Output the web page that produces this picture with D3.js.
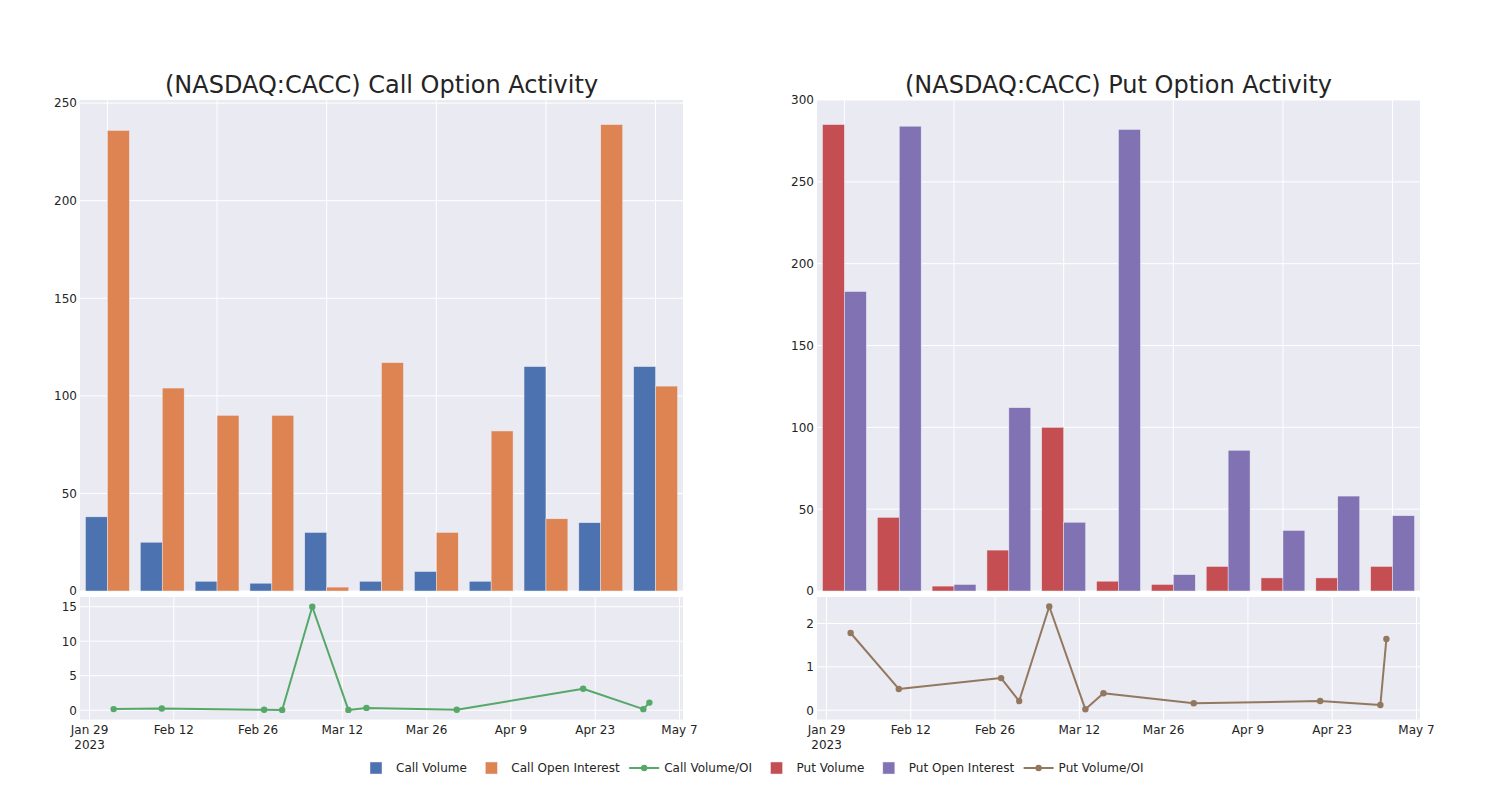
<!DOCTYPE html>
<html>
<head>
<meta charset="utf-8">
<script src="https://cdn.jsdelivr.net/npm/d3@7"></script>
<style>
  html, body { margin: 0; padding: 0; background: #fff; }
  svg { display: block; font-family: "DejaVu Sans", sans-serif; }
</style>
</head>
<body>
<svg id="chart" width="1500" height="800"></svg>
<script>
// ---- data ----
const dates = ["2023-02-02","2023-02-10","2023-02-27","2023-03-02","2023-03-07","2023-03-13","2023-03-16","2023-03-31","2023-04-21","2023-05-01","2023-05-02"];
const callVolume = [38, 25, 5, 4, 30, 5, 10, 5, 115, 35, 115];
const callOpenInterest = [236, 104, 90, 90, 2, 117, 30, 82, 37, 239, 105];
const callVolumeOI = [0.16, 0.24, 0.06, 0.04, 15, 0.04, 0.33, 0.06, 3.11, 0.15, 1.1];
const putVolume = [285, 45, 3, 25, 100, 6, 4, 15, 8, 8, 15];
const putOpenInterest = [183, 284, 4, 112, 42, 282, 10, 86, 37, 58, 46];
const putVolumeOI = [1.78, 0.49, 0.74, 0.21, 2.39, 0.02, 0.39, 0.16, 0.21, 0.12, 1.64];
const callBarTicks = [0, 50, 100, 150, 200, 250];
const putBarTicks = [0, 50, 100, 150, 200, 250, 300];
const callLineTicks = [0, 5, 10, 15];
const putLineTicks = [0, 1, 2];
const legendLabels = ["Call Volume", "Call Open Interest", "Call Volume/OI", "Put Volume", "Put Open Interest", "Put Volume/OI"];

const COLORS = {
  callVol: "rgb(76,114,176)", callOI: "rgb(221,132,82)", callLine: "rgb(85,168,104)",
  putVol: "rgb(196,78,82)", putOI: "rgb(129,114,179)", putLine: "rgb(147,120,96)"
};
const BG = "rgb(234,234,242)";
const TXT = "rgb(36,36,36)";

const parse = d3.timeParse("%Y-%m-%d");
const dateObjs = dates.map(parse);
const svg = d3.select("#chart");

const barTop = 100, barBottom = 591, lineTop = 597, lineBottom = 719.5;

function panel(o) {
  const g = svg.append("g");
  // title
  g.append("text").attr("x", (o.x0 + o.x1) / 2).attr("y", 93)
    .attr("text-anchor", "middle").attr("font-size", 24).attr("fill", TXT).text(o.title);

  // ---- bar chart ----
  const idx = d3.range(dates.length);
  const xb = d3.scaleBand().domain(idx).range([o.x0, o.x1]).paddingInner(0.2).paddingOuter(0.1);
  const xsub = d3.scaleBand().domain([0, 1]).range([0, xb.bandwidth()]);
  const yb = d3.scaleLinear().domain([0, o.barMax]).range([barBottom, barTop]);

  g.append("rect").attr("x", o.x0).attr("y", barTop).attr("width", o.x1 - o.x0)
    .attr("height", barBottom - barTop).attr("fill", BG);
  // grid
  g.append("g").selectAll("line").data(o.barTicks).join("line")
    .attr("x1", o.x0).attr("x2", o.x1).attr("y1", d => yb(d)).attr("y2", d => yb(d))
    .attr("stroke", "#fff").attr("stroke-width", 1);
  g.append("g").selectAll("line").data(idx.filter(i => i % 2 === 0)).join("line")
    .attr("x1", i => xb(i) + xb.bandwidth() / 2).attr("x2", i => xb(i) + xb.bandwidth() / 2)
    .attr("y1", barTop).attr("y2", barBottom).attr("stroke", "#fff").attr("stroke-width", 1);

  const series = [{ vals: o.vol, color: o.c1 }, { vals: o.oi, color: o.c2 }];
  series.forEach((s, si) => {
    g.append("g").selectAll("rect").data(s.vals).join("rect")
      .attr("x", (d, i) => xb(i) + xsub(si))
      .attr("width", xsub.bandwidth())
      .attr("y", d => yb(d))
      .attr("height", d => barBottom - yb(d))
      .attr("fill", s.color).attr("stroke", BG).attr("stroke-width", 0.5);
  });

  const yAxisB = d3.axisLeft(yb).tickValues(o.barTicks).tickSize(0).tickPadding(3).tickFormat(d3.format("d"));
  const ya = g.append("g").attr("transform", `translate(${o.x0},0)`).call(yAxisB);
  ya.select(".domain").remove();
  ya.selectAll("text").attr("font-size", 12).attr("fill", TXT).attr("font-family", "DejaVu Sans");

  // ---- line chart ----
  const xl = d3.scaleTime().domain([new Date(2023, 0, 27, 10), new Date(2023, 4, 7, 14)]).range([o.x0, o.x1]);
  const yl = d3.scaleLinear().domain(o.lineDomain).range([lineBottom, lineTop]);
  const dateTicks = d3.range(0, 99, 14).map(d => d3.timeDay.offset(new Date(2023, 0, 29), d));

  g.append("rect").attr("x", o.x0).attr("y", lineTop).attr("width", o.x1 - o.x0)
    .attr("height", lineBottom - lineTop).attr("fill", BG);
  g.append("g").selectAll("line").data(o.lineTicks).join("line")
    .attr("x1", o.x0).attr("x2", o.x1).attr("y1", d => yl(d)).attr("y2", d => yl(d))
    .attr("stroke", "#fff").attr("stroke-width", 1);
  g.append("g").selectAll("line").data(dateTicks).join("line")
    .attr("x1", d => xl(d)).attr("x2", d => xl(d))
    .attr("y1", lineTop).attr("y2", lineBottom).attr("stroke", "#fff").attr("stroke-width", 1);

  const line = d3.line().x((d, i) => xl(dateObjs[i])).y(d => yl(d));
  g.append("path").datum(o.ratio).attr("d", line).attr("fill", "none")
    .attr("stroke", o.c3).attr("stroke-width", 2).attr("stroke-linejoin", "round");
  g.append("g").selectAll("circle").data(o.ratio).join("circle")
    .attr("cx", (d, i) => xl(dateObjs[i])).attr("cy", d => yl(d)).attr("r", 3.2)
    .attr("fill", o.c3);

  const yAxisL = d3.axisLeft(yl).tickValues(o.lineTicks).tickSize(0).tickPadding(3).tickFormat(d3.format("d"));
  const yla = g.append("g").attr("transform", `translate(${o.x0},0)`).call(yAxisL);
  yla.select(".domain").remove();
  yla.selectAll("text").attr("font-size", 12).attr("fill", TXT).attr("font-family", "DejaVu Sans");

  const fmt = d3.timeFormat("%b %-d");
  const xAxisL = d3.axisBottom(xl).tickValues(dateTicks).tickSize(0).tickPadding(0).tickFormat(() => "");
  const xla = g.append("g").attr("transform", `translate(0,${lineBottom})`).call(xAxisL);
  xla.select(".domain").remove();
  const tl = g.append("g");
  tl.selectAll("text").data(dateTicks).join("text")
    .attr("x", d => xl(d)).attr("y", 733.5).attr("text-anchor", "middle")
    .attr("font-size", 12).attr("fill", TXT).text(d => fmt(d));
  tl.append("text").attr("x", xl(dateTicks[0])).attr("y", 748.5).attr("text-anchor", "middle")
    .attr("font-size", 12).attr("fill", TXT).text("2023");
}

panel({
  x0: 80, x1: 683, title: "(NASDAQ:CACC) Call Option Activity",
  vol: callVolume, oi: callOpenInterest, ratio: callVolumeOI,
  c1: COLORS.callVol, c2: COLORS.callOI, c3: COLORS.callLine,
  barMax: 251.6, barTicks: callBarTicks, lineDomain: [-1.35, 16.41], lineTicks: callLineTicks
});
panel({
  x0: 817, x1: 1420, title: "(NASDAQ:CACC) Put Option Activity",
  vol: putVolume, oi: putOpenInterest, ratio: putVolumeOI,
  c1: COLORS.putVol, c2: COLORS.putOI, c3: COLORS.putLine,
  barMax: 300, barTicks: putBarTicks, lineDomain: [-0.215, 2.61], lineTicks: putLineTicks
});

// ---- legend ----
const legendItems = [
  { label: legendLabels[0], color: COLORS.callVol, type: "bar" },
  { label: legendLabels[1], color: COLORS.callOI, type: "bar" },
  { label: legendLabels[2], color: COLORS.callLine, type: "line" },
  { label: legendLabels[3], color: COLORS.putVol, type: "bar" },
  { label: legendLabels[4], color: COLORS.putOI, type: "bar" },
  { label: legendLabels[5], color: COLORS.putLine, type: "line" }
];
const lg = svg.append("g");
let cx = 376;
const ly = 768;
legendItems.forEach(it => {
  if (it.type === "bar") {
    lg.append("rect").attr("x", cx - 6).attr("y", ly - 6).attr("width", 12).attr("height", 12)
      .attr("fill", it.color).attr("stroke", BG).attr("stroke-width", 0.5);
  } else {
    lg.append("line").attr("x1", cx - 15).attr("x2", cx + 15).attr("y1", ly).attr("y2", ly)
      .attr("stroke", it.color).attr("stroke-width", 2);
    lg.append("circle").attr("cx", cx).attr("cy", ly).attr("r", 3.2).attr("fill", it.color);
  }
  const t = lg.append("text").attr("x", cx + 20).attr("y", ly + 4.3)
    .attr("font-size", 12).attr("fill", TXT).text(it.label);
  const w = t.node().getComputedTextLength();
  cx = cx + 20 + w + 24.5;
});
</script>
</body>
</html>
